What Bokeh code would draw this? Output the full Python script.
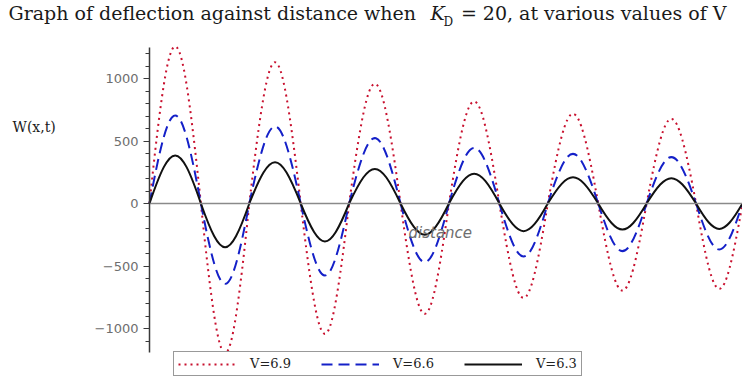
from bokeh.plotting import figure
from bokeh.models import (Label, Legend, LegendItem, ColumnDataSource,
                          FixedTicker, Range1d)
from bokeh.embed import file_html
from bokeh.resources import INLINE

# ---- data ----
# zero crossings of the curves along the distance axis
crossings = [0.00, 0.52, 1.01, 1.53, 2.02, 2.54, 3.03, 3.54, 4.03, 4.54, 5.03, 5.53, 6.00]
# extreme value of each half wave between consecutive crossings
extrema_v69 = [1256, -1197, 1130, -1043, 957, -883, 816, -755, 717, -696, 677, -683]
extrema_v66 = [704, -643, 616, -576, 523, -469, 445, -424, 397, -381, 371, -368]
extrema_v63 = [385, -350, 330, -304, 277, -250, 238, -221, 210, -208, 203, -203]
series_labels = ["V=6.9", "V=6.6", "V=6.3"]
y_major_ticks = [-1000, -500, 0, 500, 1000]
y_minor_ticks = [-1100, -900, -800, -700, -600, -400, -300, -200, -100,
                 100, 200, 300, 400, 600, 700, 800, 900, 1100, 1200]
y_axis_extent = (-1190, 1250)

# ---- layout (pixels) ----
W, H = 742, 377
AXIS_PX = 149          # page x of the vertical axis
ZERO_PX = 203          # page y of the zero line
PX_PER_Y = 62.5 / 500  # pixels per unit of deflection
px_per_x = (W - AXIS_PX) / (crossings[-1] - crossings[0])

x_range = Range1d(crossings[0] - AXIS_PX / px_per_x, crossings[-1])
y_range = Range1d(-(H - ZERO_PX) / PX_PER_Y, ZERO_PX / PX_PER_Y)

p = figure(width=W, height=H, output_backend="svg", toolbar_location=None,
           title=None, x_range=x_range, y_range=y_range,
           min_border=0, min_border_left=0, min_border_right=0,
           min_border_top=0, min_border_bottom=0)
p.outline_line_color = None
p.grid.visible = False
p.background_fill_color = "white"
p.border_fill_color = "white"

ax = p.yaxis[0]
ax.fixed_location = 0
ax.bounds = y_axis_extent
ax.ticker = FixedTicker(ticks=y_major_ticks, minor_ticks=y_minor_ticks)
ax.axis_line_color = "#3a3a3a"
ax.axis_line_width = 1.5
ax.major_tick_line_color = "#3a3a3a"
ax.minor_tick_line_color = "#3a3a3a"
ax.major_tick_out = 6
ax.major_tick_in = 0
ax.minor_tick_out = 4
ax.minor_tick_in = 0
ax.major_label_text_font = "DejaVu Sans"
ax.major_label_text_font_size = "13px"
ax.major_label_text_color = "#6e6e6e"
ax.major_label_standoff = 5

xa = p.xaxis[0]
xa.fixed_location = 0
xa.bounds = (crossings[0], crossings[-1])
xa.ticker = FixedTicker(ticks=[], minor_ticks=[])
xa.axis_line_color = "#8a8a8a"
xa.axis_line_width = 1.5
xa.major_tick_out = 0
xa.minor_tick_out = 0
xa.major_label_text_font_size = "0px"


def half_waves(extrema):
    x0 = crossings[:-1]
    x1 = crossings[1:]
    k = 0.4244
    cx0 = [a + k * (b - a) for a, b in zip(x0, x1)]
    cx1 = [b - k * (b - a) for a, b in zip(x0, x1)]
    cy = [4.0 / 3.0 * e for e in extrema]
    return ColumnDataSource(dict(x0=x0, y0=[0] * len(x0), x1=x1, y1=[0] * len(x1),
                                 cx0=cx0, cy0=cy, cx1=cx1, cy1=cy))


styles = [
    (extrema_v69, "#c8102e", "2 4"),
    (extrema_v66, "#1420c8", "11 6"),
    (extrema_v63, "#111111", "solid"),
]
renderers = []
for ext, col, dash in styles:
    r = p.bezier(x0="x0", y0="y0", x1="x1", y1="y1", cx0="cx0", cy0="cy0",
                 cx1="cx1", cy1="cy1", source=half_waves(ext),
                 line_color=col, line_width=2, line_dash=dash)
    renderers.append(r)

legend = Legend(items=[LegendItem(label=lab, renderers=[r])
                       for lab, r in zip(series_labels, renderers)],
                orientation="horizontal", location=(173, 1),
                border_line_color="#333333", border_line_width=1.5,
                background_fill_color="white", background_fill_alpha=1,
                label_text_font="DejaVu Serif", label_text_font_size="13px",
                label_text_color="#222222",
                glyph_width=58, glyph_height=14, label_height=14,
                label_standoff=14, spacing=30, padding=4, margin=0)
p.add_layout(legend, "center")


# page pixel -> frame screen coordinates (frame fills the canvas)
def sx(page_x):
    return page_x


def sy(page_y):
    return H - page_y


title_font = "DejaVu Serif"
tsize = "19px"
p.add_layout(Label(x=sx(8), y=sy(23), x_units="screen", y_units="screen",
                   text="Graph of deflection against distance when",
                   text_font=title_font, text_font_size=tsize, text_color="#1a1a1a"))
p.add_layout(Label(x=sx(430), y=sy(23), x_units="screen", y_units="screen",
                   text="K", text_font=title_font, text_font_style="italic",
                   text_font_size=tsize, text_color="#1a1a1a"))
p.add_layout(Label(x=sx(443), y=sy(28), x_units="screen", y_units="screen",
                   text="D", text_font=title_font,
                   text_font_size="12px", text_color="#1a1a1a"))
p.add_layout(Label(x=sx(738), y=sy(23), x_units="screen", y_units="screen",
                   text="= 20,  at various values of  V", text_align="right",
                   text_font=title_font, text_font_size=tsize, text_color="#1a1a1a"))

p.add_layout(Label(x=sx(12), y=sy(126), x_units="screen", y_units="screen",
                   text="W(x,t)", text_font="DejaVu Serif", text_font_size="14px",
                   text_baseline="middle", text_color="#1a1a1a"))
p.add_layout(Label(x=sx(408), y=sy(232), x_units="screen", y_units="screen",
                   text="distance", text_font="DejaVu Sans",
                   text_font_style="italic", text_font_size="15px",
                   text_baseline="middle", text_color="#6e6e6e"))

open("out.html", "w").write(file_html(p, INLINE))
